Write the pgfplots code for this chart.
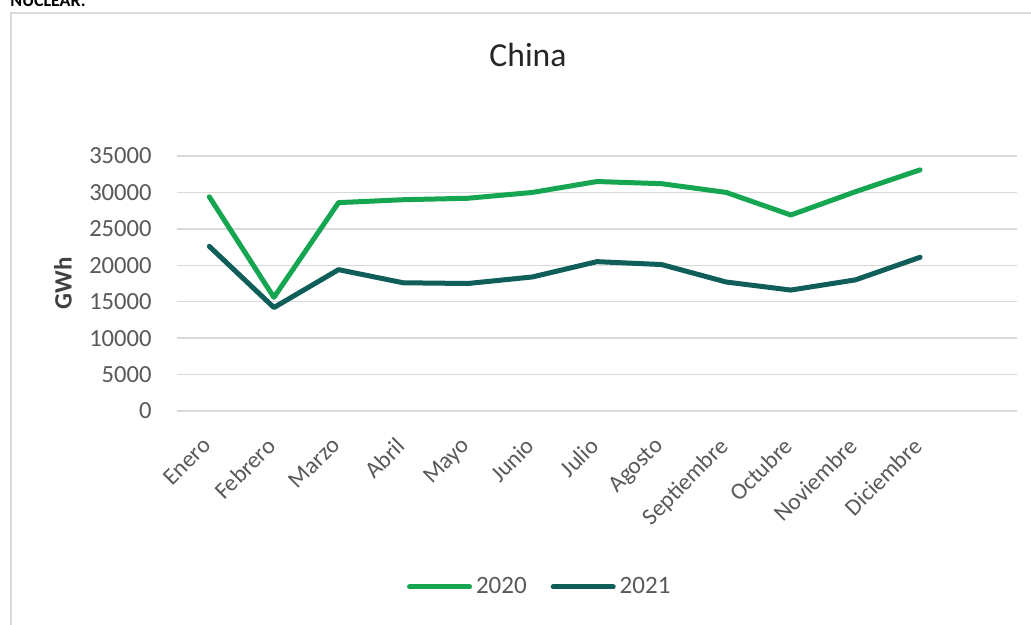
\documentclass[border=0pt]{standalone}
\usepackage{fontspec}
\setmainfont{Carlito}
\usepackage{pgfplots}
\pgfplotsset{compat=1.18}
\definecolor{g20}{HTML}{16A651}
\definecolor{g21}{HTML}{0F5E5A}
\definecolor{grid}{HTML}{D9D9D9}
\definecolor{tick}{HTML}{595959}
\begin{document}
\begin{tikzpicture}
\useasboundingbox (0,0) rectangle (515.5pt,-312.5pt);
\clip (0,0) rectangle (515.5pt,-312.5pt);
\fill[white] (0,0) rectangle (515.5pt,-312.5pt);
% outer chart frame
\draw[line width=1pt, color=black!15] (5.25pt,-330pt) -- (5.25pt,-6.75pt) -- (530pt,-6.75pt);
% heading text cut at top
\node[anchor=base west, inner sep=0pt, font=\fontsize{9}{10}\selectfont\bfseries] at (5pt,-3.2pt) {NUCLEAR.};
% title
\node[anchor=base, inner sep=0pt, font=\fontsize{16.8}{18}\selectfont, text=black!85] at (264pt,-33.5pt) {China};
% y axis title
\node[rotate=90, anchor=center, inner sep=0pt, font=\fontsize{12.5}{14}\selectfont\bfseries, text=black!75] at (31.5pt,-141.75pt) {GWh};
\begin{axis}[
  at={(88.5pt,-205.5pt)}, anchor=south west,
  scale only axis, width=420pt, height=127.5pt,
  xmin=-0.5, xmax=12.5, ymin=0, ymax=35000,
  xtick={0,...,11},
  xticklabels={Enero,Febrero,Marzo,Abril,Mayo,Junio,Julio,Agosto,Septiembre,Octubre,Noviembre,Diciembre},
  ytick={0,5000,...,35000},
  major tick length=0pt,
  axis line style={draw=none},
  ymajorgrids, major grid style={draw=grid, line width=0.75pt},
  /pgf/number format/assume math mode=true,
  scaled y ticks=false,
  yticklabel={\pgfmathprintnumber[fixed,1000 sep={}]{\tick}},
  tick label style={font=\fontsize{12.3}{14}\selectfont, text=tick},
  y tick label style={anchor=east, inner sep=0pt, xshift=-12.5pt},
  x tick label style={font=\fontsize{11.8}{14}\selectfont, rotate=45, anchor=north east, inner sep=0pt, xshift=-11.6pt, yshift=-5.8pt},
  legend columns=2,
  legend style={at={(0.433,-0.69)}, anchor=center, draw=none, fill=none,
    font=\fontsize{12.5}{14}\selectfont, text=tick,
    /tikz/every even column/.append style={column sep=10pt}},
  legend image code/.code={\draw[#1, line width=2.5pt] (0pt,0pt) -- (30pt,0pt);},
  every axis plot/.append style={line width=2.5pt, line join=round, line cap=round},
  clip=false,
]
\addplot[color=g20] coordinates {(0,29400) (1,15600) (2,28600) (3,29000) (4,29200) (5,30000) (6,31500) (7,31200) (8,30000) (9,26900) (10,30100) (11,33100)};
\addlegendentry{2020}
\addplot[color=g21] coordinates {(0,22600) (1,14200) (2,19400) (3,17600) (4,17500) (5,18400) (6,20500) (7,20100) (8,17700) (9,16600) (10,18000) (11,21100)};
\addlegendentry{2021}
\end{axis}
\end{tikzpicture}
\end{document}
